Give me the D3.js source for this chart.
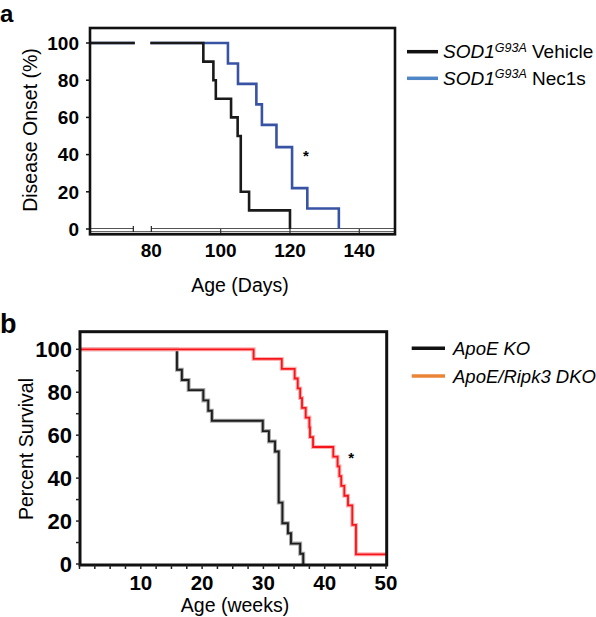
<!DOCTYPE html>
<html>
<head>
<meta charset="utf-8">
<script src="https://cdn.jsdelivr.net/npm/d3@7"></script>
<style>
  body { margin: 0; background: #fff; }
  svg { display: block; font-family: "Liberation Sans", Arial, Helvetica, sans-serif; }
</style>
</head>
<body>
<svg id="chart" width="596" height="617"></svg>
<script>
// ---------- Panel a data ----------
const aDomainDays = [62.3, 150.3];
const aTickDays = [80, 100, 120, 140];
const aTickOnset = [0, 20, 40, 60, 80, 100];
const aBreakDays = [74.8, 80];
const vehicleDays = [95.0, 97.9, 98.6, 103.0, 104.9, 105.8, 108.2, 120.0];
const vehicleOnset = [90, 80, 70, 60, 50, 20, 10, 0];
const nec1sDays = [102.1, 105.0, 110.3, 111.9, 116.1, 120.6, 125.0, 134.1];
const nec1sOnset = [89, 78, 67, 56, 44, 22, 11, 0];
const aLegend = ["Vehicle", "Nec1s"];

// ---------- Panel b data ----------
const bDomainWeeks = [0, 50];
const bTickWeeks = [10, 20, 30, 40, 50];
const bMinorWeeks = d3.range(0, 50.01, 2.5);
const bTickSurvival = [0, 20, 40, 60, 80, 100];
const bMinorSurvival = [10, 30, 50, 70, 90];
const apoeWeeks = [15.9, 16.7, 17.8, 20.2, 21.0, 21.6, 29.9, 30.9, 31.9, 32.5, 33.1, 34.0, 34.5, 36.0, 36.5];
const apoeSurvival = [90.5, 85.7, 81.0, 76.2, 71.4, 66.7, 61.9, 57.1, 52.4, 28.6, 19.0, 14.3, 9.5, 4.8, 0];
const dkoWeeks = [28.4, 33.0, 35.1, 35.6, 36.0, 36.3, 36.9, 37.5, 37.6, 38.1, 41.4, 42.1, 42.4, 42.7, 43.2, 43.8, 44.5, 45.1];
const dkoSurvival = [95.5, 90.9, 86.4, 81.8, 77.3, 72.7, 68.2, 63.6, 59.1, 54.5, 50.0, 45.5, 40.9, 36.4, 31.8, 27.3, 18.2, 4.5];
const bLegend = ["ApoE KO", "ApoE/Ripk3 DKO"];

const svg = d3.select("#chart");

function series(times, vals, start, end, endVal) {
  const pts = [[start, 100]];
  times.forEach((t, i) => pts.push([t, vals[i]]));
  if (end !== undefined) pts.push([end, endVal]);
  return pts;
}

// ================= Panel a =================
(function () {
  const L = 90, R = 395, T = 28, B = 234.3;
  const x = d3.scaleLinear().domain(aDomainDays).range([L, R]);
  const y = d3.scaleLinear().domain([0, 100]).range([229, 43]);
  const g = svg.append("g");

  g.append("text").attr("x", 0).attr("y", 22).attr("font-size", 24).attr("font-weight", "bold").text("a");

  // zero lines (double) with break
  const y0 = y(0);
  const bx0 = x(aBreakDays[0]), bx1 = x(aBreakDays[1]);
  g.append("line").attr("x1", L).attr("x2", bx0).attr("y1", y0 - 0.5).attr("y2", y0 - 0.5).attr("stroke", "#555").attr("stroke-width", 1.2);
  g.append("line").attr("x1", bx1).attr("x2", R).attr("y1", y0 - 0.5).attr("y2", y0 - 0.5).attr("stroke", "#555").attr("stroke-width", 1.2);
  g.append("line").attr("x1", L).attr("x2", R).attr("y1", y0 + 2.7).attr("y2", y0 + 2.7).attr("stroke", "#666").attr("stroke-width", 1.2);
  aBreakDays.forEach(d => g.append("line").attr("x1", x(d)).attr("x2", x(d)).attr("y1", y0 - 3).attr("y2", y0 + 3).attr("stroke", "#222").attr("stroke-width", 1.2));
  aTickDays.filter(d => d > aBreakDays[1]).forEach(d => g.append("line").attr("x1", x(d)).attr("x2", x(d)).attr("y1", y0).attr("y2", y0 + 5).attr("stroke", "#333").attr("stroke-width", 1.2));

  // curves
  const line = d3.line().x(d => x(d[0])).y(d => y(d[1])).curve(d3.curveStepAfter);
  const clip = g.append("clipPath").attr("id", "clipA");
  clip.append("rect").attr("x", L).attr("y", 0).attr("width", bx0 + 1.5 - L).attr("height", 300);
  clip.append("rect").attr("x", bx1 - 1).attr("y", 0).attr("width", R - bx1 + 1).attr("height", 300);
  g.append("path").datum(series(nec1sDays, nec1sOnset, aDomainDays[0]))
    .attr("d", line).attr("fill", "none").attr("stroke", "#3953a4").attr("stroke-width", 2.6).attr("clip-path", "url(#clipA)");
  g.append("path").datum(series(vehicleDays, vehicleOnset, aDomainDays[0]))
    .attr("d", line).attr("fill", "none").attr("stroke", "#1a1a1a").attr("stroke-width", 2.6).attr("clip-path", "url(#clipA)");

  // frame
  g.append("rect").attr("x", L).attr("y", T).attr("width", R - L).attr("height", B - T)
    .attr("fill", "none").attr("stroke", "#111").attr("stroke-width", 2.6);

  // y axis ticks + labels
  aTickOnset.forEach(v => {
    g.append("line").attr("x1", L - 4).attr("x2", L).attr("y1", y(v)).attr("y2", y(v)).attr("stroke", "#111").attr("stroke-width", 1.5);
    g.append("text").attr("x", 79).attr("y", y(v)).attr("dy", "0.36em").attr("text-anchor", "end")
      .attr("font-size", 19).attr("font-weight", "bold").text(v);
  });
  aTickDays.forEach(d => {
    g.append("text").attr("x", x(d)).attr("y", 257).attr("text-anchor", "middle")
      .attr("font-size", 19).attr("font-weight", "bold").text(d);
  });
  g.append("text").attr("x", 240).attr("y", 292).attr("text-anchor", "middle").attr("font-size", 19.5).text("Age (Days)");
  g.append("text").attr("transform", "translate(37,130) rotate(-90)").attr("text-anchor", "middle").attr("font-size", 19.5).text("Disease Onset (%)");

  g.append("text").attr("x", x(124.6)).attr("y", y(36.6)).attr("text-anchor", "middle").attr("font-size", 15).attr("font-weight", "bold").text("*");

  // legend
  const legColors = ["#111", "#4f86c6"];
  aLegend.forEach((lab, i) => {
    const ly = 51.7 + i * 26.6;
    g.append("line").attr("x1", 407).attr("x2", 438).attr("y1", ly).attr("y2", ly).attr("stroke", legColors[i]).attr("stroke-width", 3.5);
    const t = g.append("text").attr("x", 443).attr("y", ly + 6.5).attr("font-size", 19);
    t.append("tspan").attr("font-style", "italic").text("SOD1");
    t.append("tspan").attr("font-style", "italic").attr("font-size", 12.5).attr("dy", -6.5).text("G93A");
    t.append("tspan").attr("dy", 6.5).text(" " + lab);
  });
})();

// ================= Panel b =================
(function () {
  const L = 80, R = 386.7, T = 331.7, B = 565;
  const x = d3.scaleLinear().domain(bDomainWeeks).range([79.5, 386]);
  const y = d3.scaleLinear().domain([0, 100]).range([564, 349.3]);
  const g = svg.append("g");

  g.append("text").attr("x", 0).attr("y", 333).attr("font-size", 27).attr("font-weight", "bold").text("b");

  const line = d3.line().x(d => x(d[0])).y(d => y(d[1])).curve(d3.curveStepAfter);
  const black = series(apoeWeeks, apoeSurvival, bDomainWeeks[0]);
  const red = series(dkoWeeks, dkoSurvival, bDomainWeeks[0], bDomainWeeks[1], dkoSurvival[dkoSurvival.length - 1]);

  g.append("path").datum(black).attr("d", line).attr("fill", "none").attr("stroke", "#aaa").attr("stroke-width", 4);
  g.append("path").datum(black).attr("d", line).attr("fill", "none").attr("stroke", "#1e1e1e").attr("stroke-width", 1.9);
  g.append("path").datum(red).attr("d", line).attr("fill", "none").attr("stroke", "#ffb0b0").attr("stroke-width", 4);
  g.append("path").datum(red).attr("d", line).attr("fill", "none").attr("stroke", "#f5151a").attr("stroke-width", 1.8);

  // frame
  g.append("rect").attr("x", L).attr("y", T).attr("width", R - L).attr("height", B - T)
    .attr("fill", "none").attr("stroke", "#111").attr("stroke-width", 3);

  // ticks
  bMinorWeeks.forEach(w => g.append("line").attr("x1", x(w)).attr("x2", x(w)).attr("y1", B).attr("y2", B + 4).attr("stroke", "#222").attr("stroke-width", 1.5));
  bTickSurvival.concat(bMinorSurvival).forEach(v => g.append("line").attr("x1", L - 4).attr("x2", L).attr("y1", y(v)).attr("y2", y(v)).attr("stroke", "#222").attr("stroke-width", 1.5));

  bTickSurvival.forEach(v => {
    g.append("text").attr("x", 72).attr("y", y(v)).attr("dy", "0.36em").attr("text-anchor", "end")
      .attr("font-size", 22).attr("font-weight", "bold").text(v);
  });
  bTickWeeks.forEach(w => {
    g.append("text").attr("x", x(w)).attr("y", 590).attr("text-anchor", "middle")
      .attr("font-size", 20.5).attr("font-weight", "bold").text(w);
  });
  g.append("text").attr("x", 235).attr("y", 612).attr("text-anchor", "middle").attr("font-size", 19.5).text("Age (weeks)");
  g.append("text").attr("transform", "translate(33,449) rotate(-90)").attr("text-anchor", "middle").attr("font-size", 19.5).text("Percent Survival");

  g.append("text").attr("x", x(44.3)).attr("y", y(47)).attr("text-anchor", "middle").attr("font-size", 15).attr("font-weight", "bold").text("*");

  const legColors = ["#111", "#ea8437"];
  bLegend.forEach((lab, i) => {
    const ly = 348.3 + i * 27.7;
    g.append("line").attr("x1", 411.7).attr("x2", 445).attr("y1", ly).attr("y2", ly).attr("stroke", legColors[i]).attr("stroke-width", 3.5);
    g.append("text").attr("x", 453).attr("y", ly + 6.5).attr("font-size", 18.5).attr("font-style", "italic").text(lab);
  });
})();
</script>
</body>
</html>
